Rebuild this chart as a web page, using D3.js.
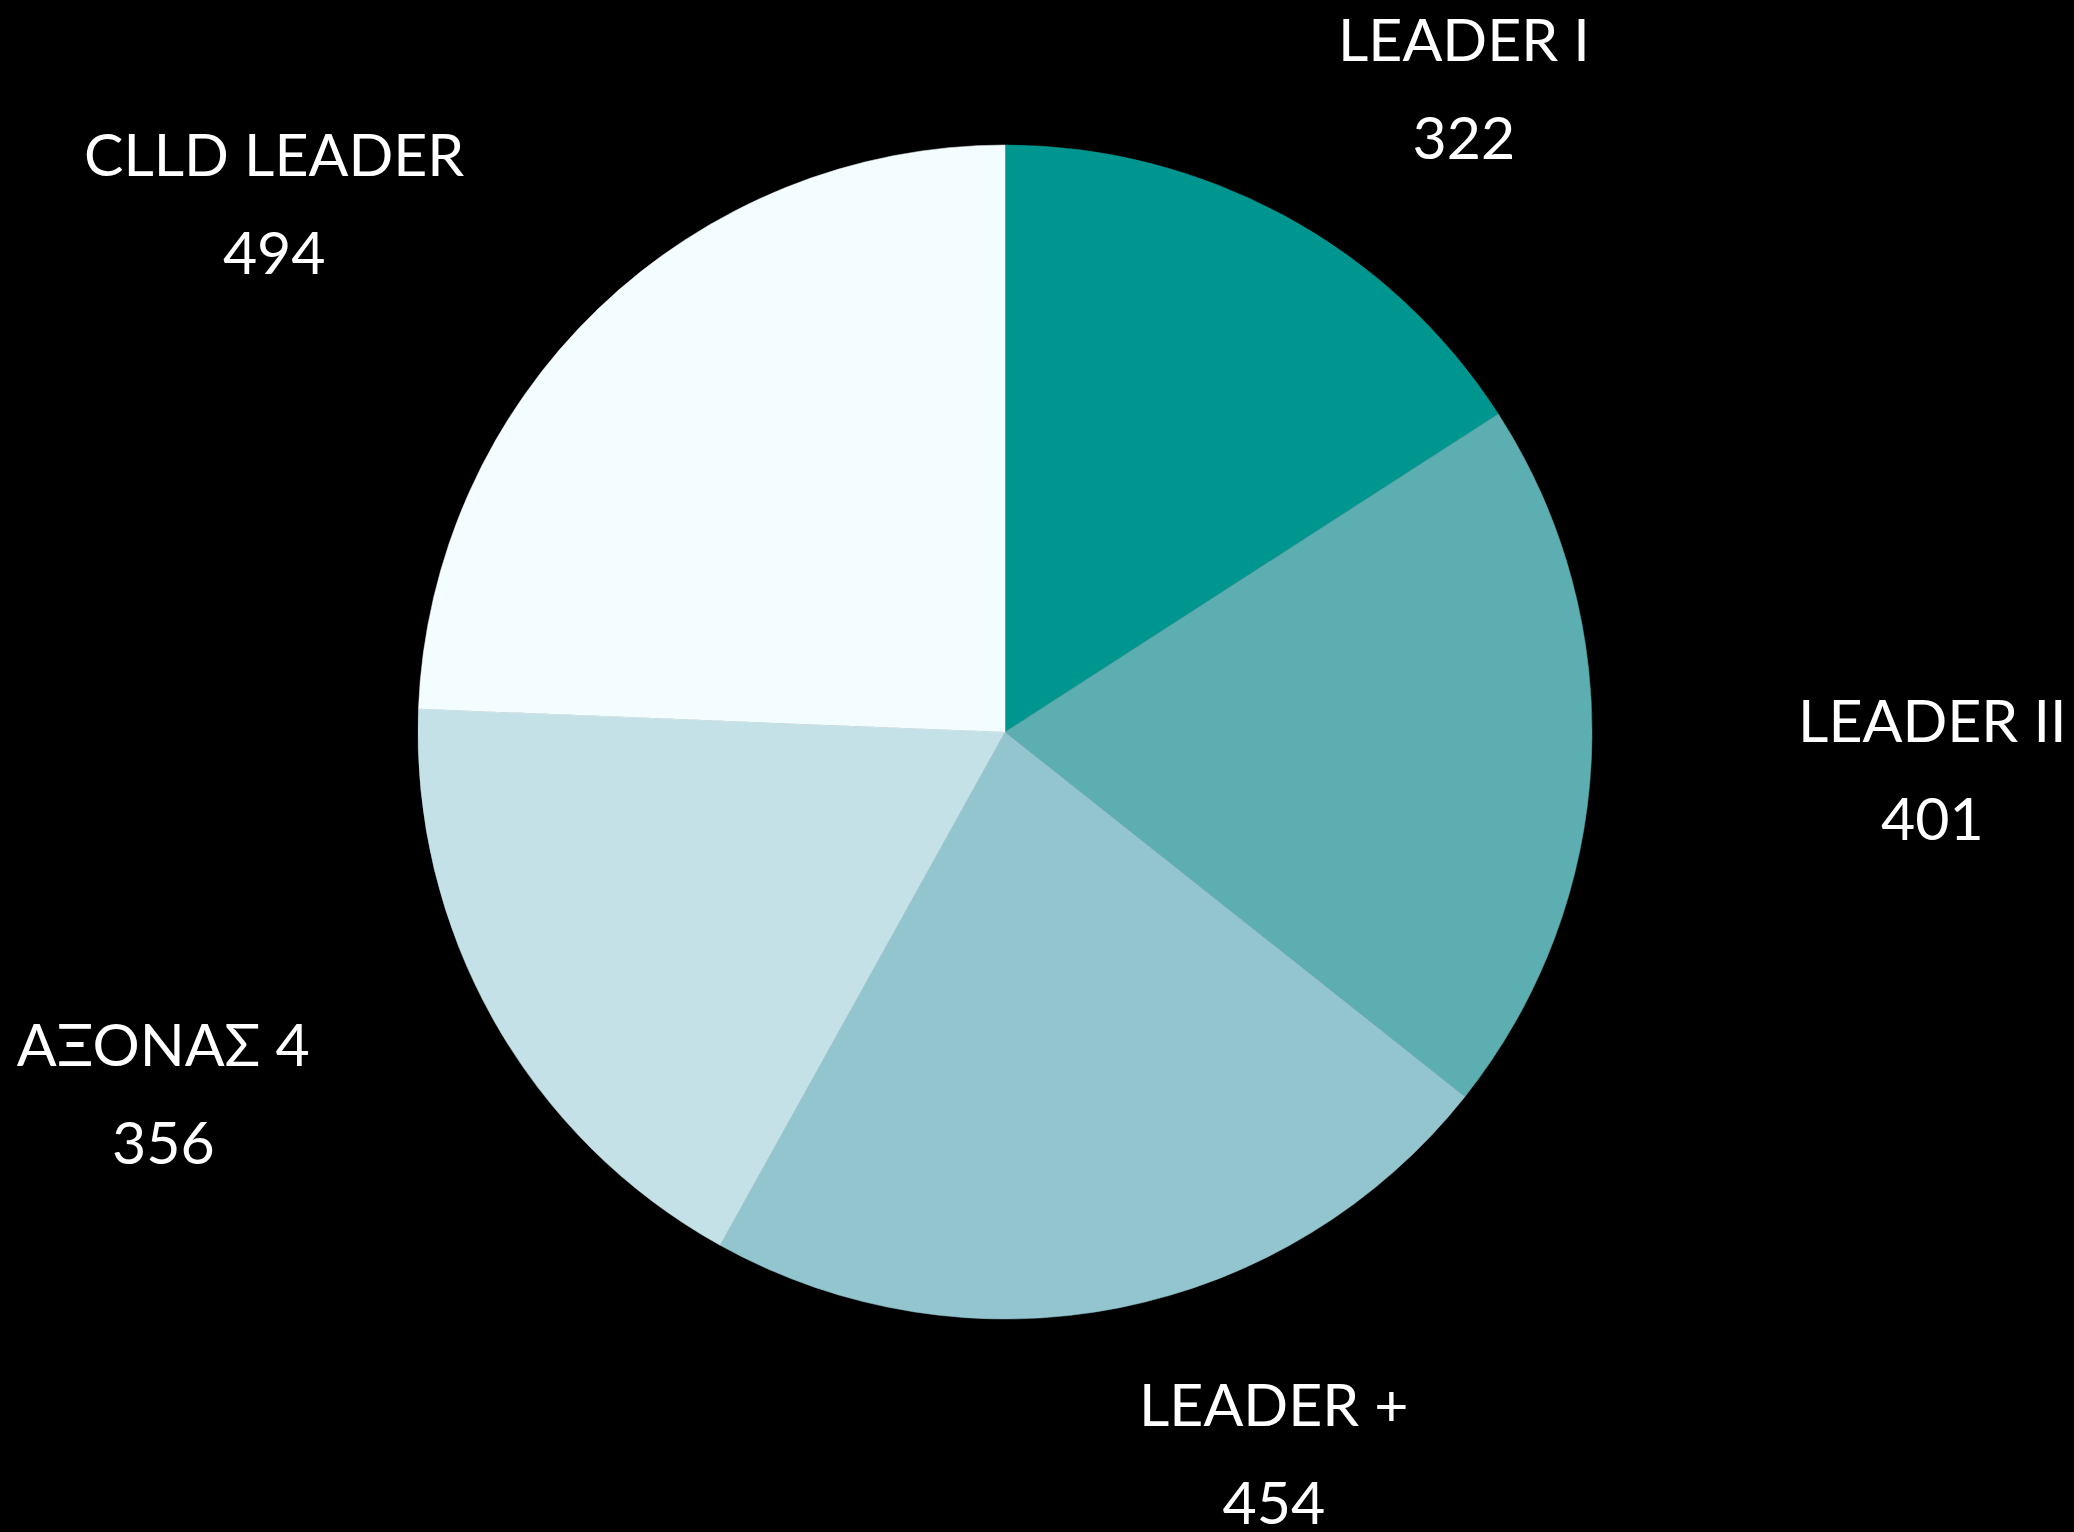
<!DOCTYPE html>
<html>
<head>
<meta charset="utf-8">
<script src="https://cdn.jsdelivr.net/npm/d3@7"></script>
<style>
html,body{margin:0;padding:0;background:#000;}
svg{display:block;}
</style>
</head>
<body>
<svg id="chart" width="2074" height="1532"></svg>
<script>
const categories = ["LEADER I", "LEADER II", "LEADER +", "ΑΞΟΝΑΣ 4", "CLLD LEADER"];
const values = [322, 401, 454, 356, 494];
const colors = ["#009690", "#5CAEB1", "#93C5CF", "#C4E1E7", "#F3FCFE"];
// label offsets from the slice's outer-edge mid-point (layout only)
const labelOffsets = [[178, -156], [341, -19], [154, 118], [-330, 46], [-324, -133]];

const W = 2074, H = 1532;
const cx = 1005, cy = 732, R = 587;
const svg = d3.select("#chart");
svg.append("rect").attr("width", W).attr("height", H).attr("fill", "#000");

const data = categories.map((c, i) => ({cat: c, value: values[i], color: colors[i], off: labelOffsets[i]}));
const pie = d3.pie().value(d => d.value).sort(null);
const arcs = pie(data);
const arc = d3.arc().innerRadius(0).outerRadius(R);
const edge = d3.arc().innerRadius(R).outerRadius(R);

const g = svg.append("g").attr("transform", `translate(${cx},${cy})`);
g.selectAll("path").data(arcs).join("path")
  .attr("d", arc)
  .attr("fill", d => d.data.color)
  .attr("stroke", d => d.data.color)
  .attr("stroke-width", 0.5);

const labels = g.selectAll("g.lbl").data(arcs).join("g").attr("class", "lbl")
  .attr("transform", d => {
    const [x, y] = edge.centroid(d);
    return `translate(${x + d.data.off[0]},${y + d.data.off[1]})`;
  });
labels.append("text")
  .attr("text-anchor", "middle")
  .attr("fill", "#fff")
  .style("font-family", "Lato, 'Open Sans', sans-serif")
  .style("font-size", "59px")
  .text(d => d.data.cat);
labels.append("text")
  .attr("text-anchor", "middle")
  .attr("y", 98)
  .attr("fill", "#fff")
  .style("font-family", "Lato, 'Open Sans', sans-serif")
  .style("font-size", "59px")
  .text(d => d3.format("d")(d.data.value));
</script>
</body>
</html>
